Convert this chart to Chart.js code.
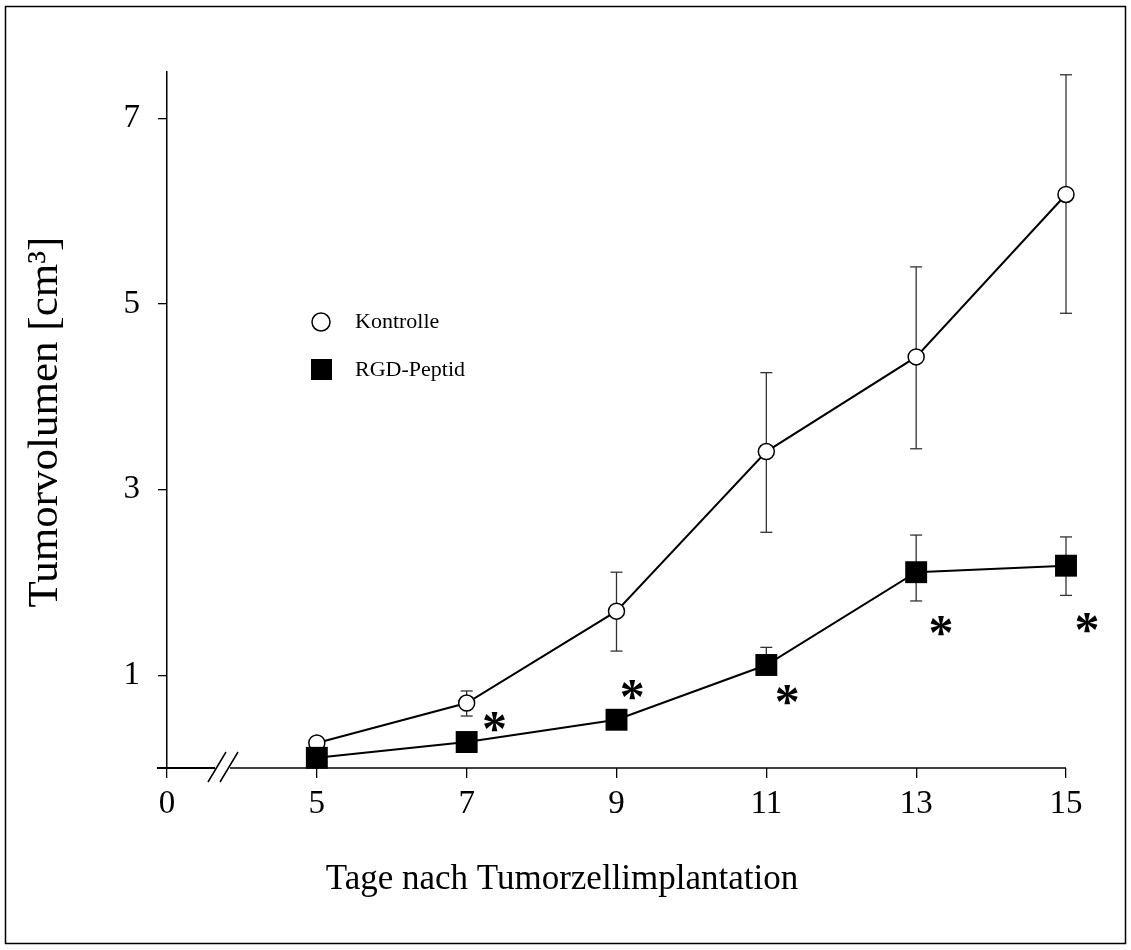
<!DOCTYPE html>
<html>
<head>
<meta charset="utf-8">
<script src="https://cdn.jsdelivr.net/npm/chart.js@4.4.1/dist/chart.umd.min.js"></script>
<style>
  html, body { margin: 0; padding: 0; background: #fff; }
  #wrap { position: relative; width: 1131px; height: 950px; }
  canvas { display: block; }
</style>
</head>
<body>
<div id="wrap"><canvas id="c" width="1131" height="950"></canvas></div>
<script>
// ---- data ----
const days = [5, 7, 9, 11, 13, 15];
const kontrolle = [0.27, 0.70, 1.69, 3.41, 4.43, 6.18];
const kontrolleHi = [0.27, 0.83, 2.11, 4.26, 5.40, 7.47];
const kontrolleLo = [0.27, 0.56, 1.26, 2.54, 3.44, 4.90];
const rgd = [0.11, 0.28, 0.52, 1.11, 2.11, 2.18];
const rgdHi = [0.11, 0.28, 0.52, 1.30, 2.51, 2.49];
const rgdLo = [0.11, 0.28, 0.52, 1.11, 1.80, 1.86];
const starX = [7.37, 9.21, 11.28, 13.33, 15.28];
const starY = [0.50, 0.84, 0.79, 1.53, 1.56];
const xTickValues = [3, 5, 7, 9, 11, 13, 15];
const xTickLabels = ['0', '5', '7', '9', '11', '13', '15'];
const yTickValues = [1, 3, 5, 7];
const seriesNames = ['Kontrolle', 'RGD-Peptid'];
const xTitle = 'Tage nach Tumorzellimplantation';
const yTitle = 'Tumorvolumen [cm\u00B3]';

const FONT = "'Liberation Serif', 'Times New Roman', serif";

function toPts(xs, ys) { return xs.map((x, i) => ({ x: x, y: ys[i] })); }

const errorBars = {
  id: 'errorBars',
  beforeDatasetsDraw(chart) {
    const ctx = chart.ctx, xs = chart.scales.x, ys = chart.scales.y;
    const sets = [[kontrolle, kontrolleHi, kontrolleLo], [rgd, rgdHi, rgdLo]];
    ctx.save();
    ctx.strokeStyle = '#333';
    ctx.lineWidth = 1.3;
    sets.forEach(([mid, hi, lo]) => {
      days.forEach((d, i) => {
        const px = xs.getPixelForValue(d);
        ctx.beginPath();
        ctx.moveTo(px, ys.getPixelForValue(hi[i]));
        ctx.lineTo(px, ys.getPixelForValue(lo[i]));
        ctx.stroke();
        [hi[i], lo[i]].forEach(v => {
          if (Math.abs(v - mid[i]) < 1e-9) return;
          const py = ys.getPixelForValue(v);
          ctx.beginPath();
          ctx.moveTo(px - 6, py); ctx.lineTo(px + 6, py);
          ctx.stroke();
        });
      });
    });
    ctx.restore();
  }
};

const decor = {
  id: 'decor',
  beforeDraw(chart) {
    const ctx = chart.ctx;
    ctx.save();
    ctx.fillStyle = '#fff';
    ctx.fillRect(0, 0, chart.width, chart.height);
    ctx.restore();
  },
  afterDraw(chart) {
    const ctx = chart.ctx, xs = chart.scales.x, ys = chart.scales.y;
    const y0 = ys.getPixelForValue(0);
    const left = xs.getPixelForValue(3);
    ctx.save();
    // x axis line with break
    ctx.strokeStyle = '#000';
    ctx.lineWidth = 2;
    ctx.beginPath();
    ctx.moveTo(left - 10, y0); ctx.lineTo(left + 48, y0);
    ctx.stroke();
    ctx.lineWidth = 1.3;
    ctx.beginPath();
    ctx.moveTo(left + 63, y0); ctx.lineTo(xs.getPixelForValue(15), y0);
    ctx.stroke();
    ctx.lineWidth = 1.5;
    ctx.beginPath();
    ctx.moveTo(left + 41, y0 + 14); ctx.lineTo(left + 59, y0 - 16);
    ctx.moveTo(left + 53, y0 + 14); ctx.lineTo(left + 71, y0 - 16);
    ctx.stroke();

    // axis titles
    ctx.fillStyle = '#000';
    ctx.textAlign = 'center';
    ctx.textBaseline = 'middle';
    ctx.font = '35px ' + FONT;
    ctx.fillText(xTitle, 562, 880);
    ctx.save();
    ctx.translate(46, 422);
    ctx.rotate(-Math.PI / 2);
    ctx.font = '43px ' + FONT;
    ctx.fillText(yTitle, 0, 0);
    ctx.restore();

    // asterisks
    ctx.font = 'bold 50px ' + FONT;
    ctx.textAlign = 'center';
    ctx.textBaseline = 'alphabetic';
    starX.forEach((sx, i) => {
      const px = xs.getPixelForValue(sx);
      const py = ys.getPixelForValue(starY[i]);
      const m = ctx.measureText('*');
      const off = (m.actualBoundingBoxAscent - m.actualBoundingBoxDescent) / 2;
      ctx.fillText('*', px, py + off);
    });

    // legend
    const ds = chart.data.datasets;
    ctx.font = '22px ' + FONT;
    ctx.textAlign = 'left';
    ctx.textBaseline = 'middle';
    ctx.beginPath();
    ctx.arc(321, 322, 9, 0, Math.PI * 2);
    ctx.fillStyle = '#fff'; ctx.fill();
    ctx.lineWidth = 1.5; ctx.strokeStyle = '#000'; ctx.stroke();
    ctx.fillStyle = '#000';
    ctx.fillText(ds[0].label, 355, 322);
    ctx.fillRect(311, 359, 21, 21);
    ctx.fillText(ds[1].label, 355, 370);

    // outer frame
    ctx.lineWidth = 1.5;
    ctx.strokeStyle = '#000';
    ctx.strokeRect(5.5, 6.5, 1120, 937);
    ctx.restore();
  }
};

new Chart(document.getElementById('c'), {
  type: 'scatter',
  data: {
    datasets: [
      {
        label: seriesNames[0],
        data: toPts(days, kontrolle),
        showLine: true,
        borderColor: '#000',
        borderWidth: 2,
        pointStyle: 'circle',
        pointRadius: 8,
        pointBackgroundColor: '#fff',
        pointBorderColor: '#000',
        pointBorderWidth: 1.5,
        order: 2,
        clip: false
      },
      {
        label: seriesNames[1],
        data: toPts(days, rgd),
        showLine: true,
        borderColor: '#000',
        borderWidth: 2,
        pointStyle: 'rect',
        pointRadius: 15.5,
        pointBackgroundColor: '#000',
        pointBorderColor: '#000',
        pointBorderWidth: 0,
        order: 1,
        clip: false
      }
    ]
  },
  options: {
    responsive: false,
    animation: false,
    devicePixelRatio: 1,
    layout: { padding: { left: 0, top: 72, right: 65, bottom: 20 } },
    plugins: { legend: { display: false }, tooltip: { enabled: false } },
    scales: {
      x: {
        type: 'linear',
        min: 3, max: 15,
        afterBuildTicks(s) { s.ticks = xTickValues.map(v => ({ value: v })); },
        afterFit(s) { s.height = 162; },
        border: { display: false },
        grid: { drawOnChartArea: false, drawTicks: true, tickLength: 10, color: '#000', lineWidth: 1.3 },
        ticks: {
          color: '#000',
          font: { family: FONT, size: 33 },
          padding: 7,
          maxRotation: 0,
          autoSkip: false,
          callback(v) { const i = xTickValues.indexOf(v); return i >= 0 ? xTickLabels[i] : ''; }
        },
        title: { display: false }
      },
      y: {
        type: 'linear',
        min: 0, max: 7.5,
        afterBuildTicks(s) { s.ticks = yTickValues.map(v => ({ value: v })); },
        afterFit(s) { s.width = 167; },
        border: { display: true, color: '#000', width: 1.5 },
        grid: { drawOnChartArea: false, drawTicks: true, tickLength: 9, color: '#000', lineWidth: 1.3 },
        ticks: {
          color: '#000',
          font: { family: FONT, size: 33 },
          padding: 18,
          autoSkip: false
        },
        title: { display: false }
      }
    }
  },
  plugins: [decor, errorBars]
});
</script>
</body>
</html>
